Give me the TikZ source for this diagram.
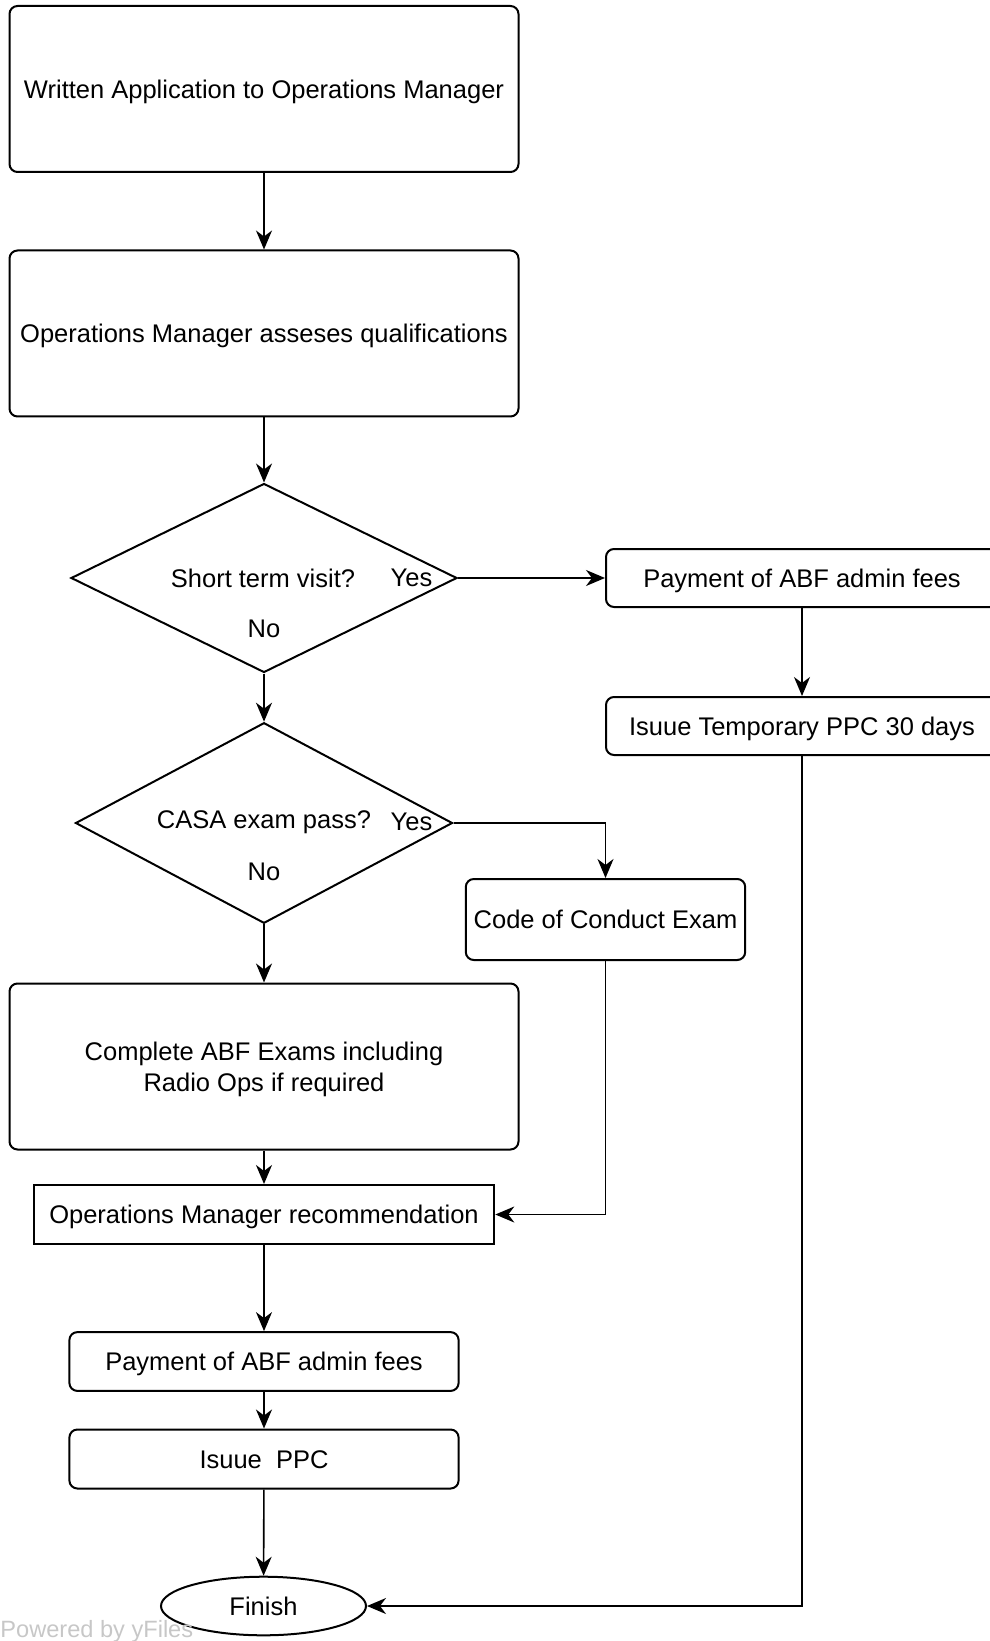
\documentclass[tikz,border=0pt]{standalone}
\usepackage{fontspec}
\setmainfont{Liberation Sans}
\usetikzlibrary{shapes.geometric}
\usetikzlibrary{arrows.meta}

\begin{document}
\begin{tikzpicture}[x=0.5pt, y=-0.5pt,
    every node/.style={font=\fontsize{12.75}{15.5}\selectfont},
    tallbox/.style={draw, line width=1pt, rounded corners=4pt, fill=white,
      inner sep=0pt, align=center},
    stepbox/.style={tallbox, text height=9.2pt, text depth=0pt},
    plainbox/.style={draw, line width=1pt, fill=white, inner sep=0pt,
      text height=9.2pt, text depth=0pt},
    choice/.style={draw, diamond, line width=1pt, inner sep=0pt},
    flow/.style={line width=0.8pt, -{Stealth[length=9.5pt, width=8pt, inset=3pt]}}]
      \useasboundingbox (0,0) rectangle (989,1641);

      \node[stepbox, minimum width=254.5pt, minimum height=83pt] (app) at (264,89)
        {Written Application to Operations Manager};
      \node[stepbox, minimum width=254.5pt, minimum height=83pt] (assess) at (264,333.5)
        {Operations Manager asseses qualifications};

      \node[choice, minimum width=193pt, minimum height=94.5pt] (short) at (264,578) {};
      \node (shortq) at (263,578) {Short term visit?};
      \node (shortyes) at (411.5,578) {Yes};
      \node (shortno) at (264,629) {No};

      \node[stepbox, minimum width=196pt, minimum height=29pt] (pay1) at (802,578)
        {Payment of ABF admin fees};
      \node[stepbox, minimum width=196pt, minimum height=29pt] (temp) at (802,726)
        {Isuue Temporary PPC 30 days};

      \node[choice, minimum width=188.5pt, minimum height=100.3pt] (casa) at (264,823) {};
      \node (casaq) at (264,822) {CASA exam pass?};
      \node (casayes) at (411.5,822) {Yes};
      \node (casano) at (264,872) {No};

      \node[stepbox, minimum width=139.7pt, minimum height=40.5pt] (coc) at (605.5,919.5)
        {Code of Conduct Exam};
      \node[tallbox, minimum width=254.5pt, minimum height=83pt, text depth=0pt] (exams)
        at (264,1066.5) {Complete ABF Exams including\\Radio Ops if required};
      \node[plainbox, minimum width=230.3pt, minimum height=29.5pt] (rec) at (264,1214.5)
        {Operations Manager recommendation};
      \node[stepbox, minimum width=194.6pt, minimum height=29.4pt] (pay2) at (264,1361.5)
        {Payment of ABF admin fees};
      \node[stepbox, minimum width=194.6pt, minimum height=29.5pt] (ppc) at (264,1459)
        {Isuue\ \ PPC};
      \node[draw, ellipse, line width=1pt, inner sep=0pt, minimum width=102.5pt,
        minimum height=29.3pt, text height=9.2pt, text depth=0pt] (finish)
        at (263.5,1606) {Finish};

      \node[anchor=base west, inner sep=0pt, text=black!22,
        font=\fontsize{11.8}{14}\selectfont] (yfiles) at (0,1637) {Powered by yFiles};

      \path[flow] (app) edge (assess);
      \path[flow] (assess) edge (short);
      \path[flow] (short.east) edge (pay1);
      \path[flow] (pay1) edge (temp);
      \path[flow] (short) edge (casa);
      \path[flow] (casa) edge (exams);
      \path[flow] (exams) edge (rec);
      \path[flow] (rec) edge (pay2);
      \path[flow] (pay2) edge (ppc);
      \path[flow] (ppc) edge (finish);

      \draw[flow] (casa.east) -| (coc);
      \draw[flow] (coc) |- (rec);
      \draw[flow] (temp) |- (finish);
    \end{tikzpicture}
\end{document}
